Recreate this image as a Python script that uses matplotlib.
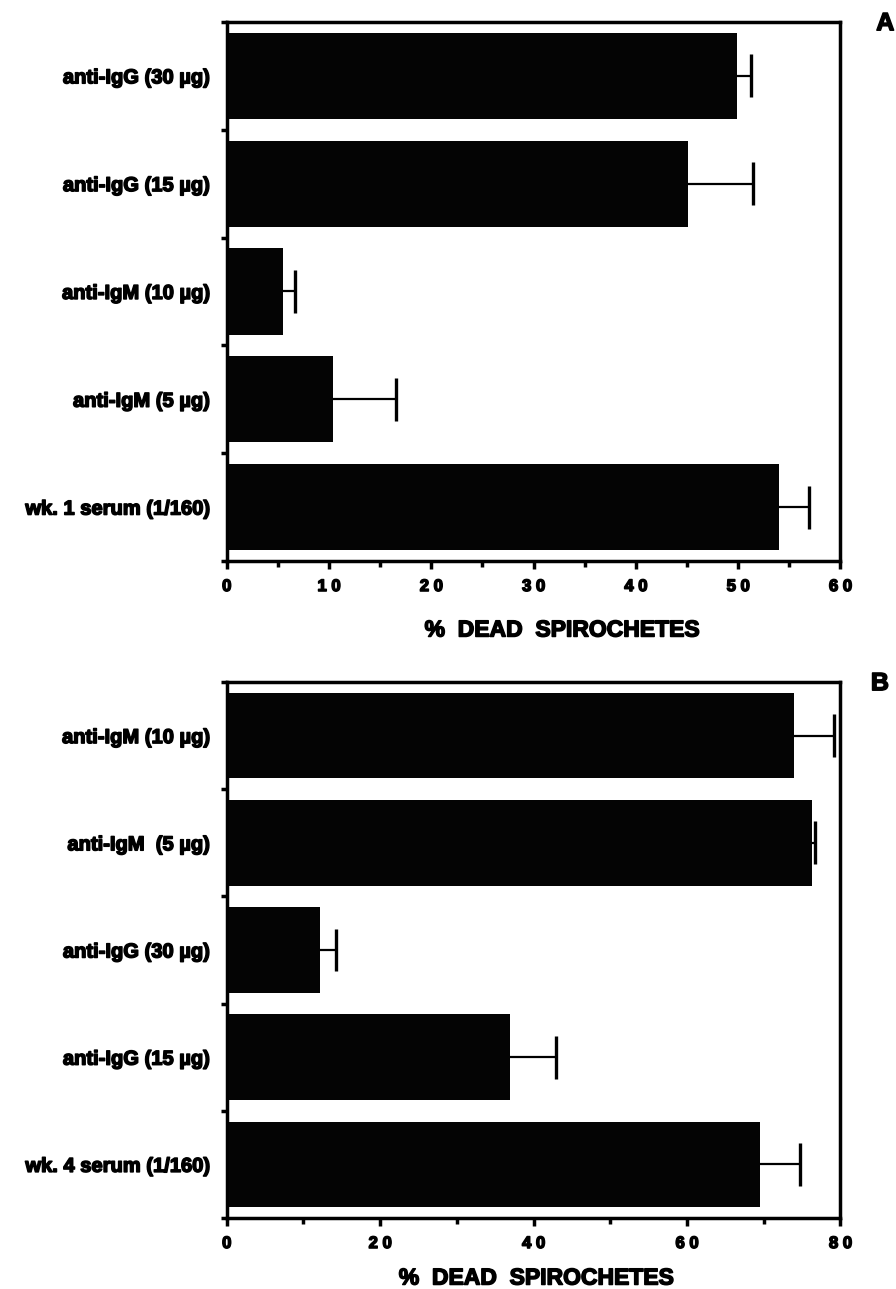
import matplotlib
matplotlib.use("Agg")
import matplotlib.pyplot as plt
import matplotlib.patheffects as pe
from matplotlib.ticker import MultipleLocator

# Panel A data (top to bottom)
labels_a = ["anti-IgG (30 µg)", "anti-IgG (15 µg)", "anti-IgM (10 µg)",
            "anti-IgM (5 µg)", "wk. 1 serum (1/160)"]
values_a = [49.9, 45.1, 5.5, 10.4, 54.0]
errors_a = [1.35, 6.35, 1.2, 6.2, 2.9]
ticks_a = [0, 10, 20, 30, 40, 50, 60]
ticklabels_a = ["0", "1 0", "2 0", "3 0", "4 0", "5 0", "6 0"]

# Panel B data (top to bottom)
labels_b = ["anti-IgM (10 µg)", "anti-IgM  (5 µg)", "anti-IgG (30 µg)",
            "anti-IgG (15 µg)", "wk. 4 serum (1/160)"]
values_b = [74.0, 76.3, 12.1, 36.9, 69.5]
errors_b = [5.1, 0.4, 2.1, 6.0, 5.2]
ticks_b = [0, 20, 40, 60, 80]
ticklabels_b = ["0", "2 0", "4 0", "6 0", "8 0"]

xlabel = "%  DEAD  SPIROCHETES"

plt.rcParams['font.family'] = ['Liberation Sans', 'DejaVu Sans']
plt.rcParams['font.weight'] = 'bold'

heavy = [pe.withStroke(linewidth=1.1, foreground='black')]

fig = plt.figure(figsize=(8.96, 12.89), dpi=100)


def panel(rect, labels, values, errors, ticks, ticklabels, xmax, minor,
          letter, letter_xy, label_x, label_y):
    ax = fig.add_axes(rect)
    n = len(labels)
    ypos = list(range(n))
    ax.barh(ypos, values, height=0.8, color="#040404", edgecolor="none", zorder=2)
    ends = [v + e for v, e in zip(values, errors)]
    ax.hlines(ypos, values, ends, colors="black", linewidth=1.6, zorder=3)
    ax.vlines(ends, [y - 0.2 for y in ypos], [y + 0.2 for y in ypos],
              colors="black", linewidth=2.4, zorder=3)
    ax.set_xlim(0, xmax)
    ax.set_ylim(n - 0.5, -0.5)
    ax.set_xticks(ticks)
    ax.set_xticklabels(ticklabels, fontsize=12, fontweight='bold')
    ax.xaxis.set_minor_locator(MultipleLocator(minor))
    ax.tick_params(axis='x', which='major', direction='out', length=6, width=2.5, pad=7)
    ax.tick_params(axis='x', which='minor', direction='out', length=4, width=2.5)
    ax.set_yticks([i + 0.5 for i in range(-1, n)], minor=True)
    ax.set_yticks(ypos)
    ax.set_yticklabels(labels, fontsize=14.5, fontweight='bold')
    ax.tick_params(axis='y', which='major', length=0, pad=12)
    ax.tick_params(axis='y', which='minor', direction='out', length=4, width=2.5)
    for t in ax.get_xticklabels() + ax.get_yticklabels():
        t.set_path_effects(heavy)
    for s in ax.spines.values():
        s.set_linewidth(2.5)
    ax.set_xlabel(xlabel, fontsize=16.5, fontweight='bold')
    ax.xaxis.set_label_coords(label_x, label_y)
    ax.xaxis.label.set_va('center')
    ax.xaxis.label.set_path_effects(heavy)
    fig.text(letter_xy[0], letter_xy[1], letter, fontsize=18, fontweight='bold',
             ha='center', va='center', path_effects=heavy)
    return ax


panel([0.253, 0.5648, 0.685, 0.4182], labels_a, values_a, errors_a,
      ticks_a, ticklabels_a, 60, 5, "A", (0.988, 0.982), 0.546, -0.128)
panel([0.253, 0.0551, 0.685, 0.4158], labels_b, values_b, errors_b,
      ticks_b, ticklabels_b, 80, 10, "B", (0.982, 0.470), 0.504, -0.112)

fig.savefig("out.png", dpi=100)
